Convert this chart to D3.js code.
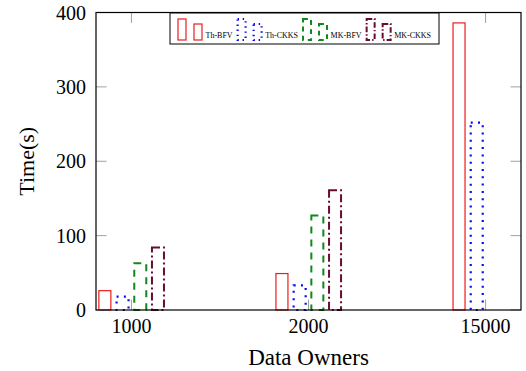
<!DOCTYPE html>
<html>
<head>
  <meta charset="UTF-8">
  <style>
    body { margin: 0; background: #fff; }
    svg { display: block; }
    text { font-family: "Liberation Serif", "Times New Roman", serif; fill: #000; }
  </style>
</head>
<body>
  <svg width="526" height="371"></svg>
  <script src="https://d3js.org/d3.v7.min.js"></script>
  <script>
    // data
    let categories = ["1000", "2000", "15000"];
    let seriesNames = ["Th-BFV", "Th-CKKS", "MK-BFV", "MK-CKKS"];
    let thBFV = [26, 49, 386];
    let thCKKS = [18, 33, 252];
    let mkBFV = [63, 127, null];
    let mkCKKS = [84, 161, null];
    let yTicks = [0, 100, 200, 300, 400];

    let seriesValues = [thBFV, thCKKS, mkBFV, mkCKKS];
    let styles = [
      { color: "#ee1c1c", width: 1.2, dash: null },
      { color: "#0a0aee", width: 2.2, dash: "2 5.3" },
      { color: "#10881a", width: 2, dash: "7 6" },
      { color: "#6b0a32", width: 2, dash: "8 3 2 3" }
    ];

    let pLeft = 96, pRight = 521, pTop = 12.5, pBottom = 310;
    let svg = d3.select("svg");

    let x = d3.scalePoint().domain(categories).range([pLeft, pRight]).padding(0.2);
    let xOff = d3.scaleBand().domain(seriesNames).range([-35.4, 35.4]);
    let barW = 12;
    let y = d3.scaleLinear().domain([0, 400]).range([pBottom, pTop]);

    // bars
    seriesNames.forEach((s, i) => {
      let st = styles[i];
      svg.append("g").selectAll("rect")
        .data(categories.map((c, j) => ({ c: c, v: seriesValues[i][j] })).filter(d => d.v != null))
        .enter()
        .append("rect")
        .attr("x", d => x(d.c) + xOff(s) + (xOff.bandwidth() - barW) / 2)
        .attr("y", d => y(d.v))
        .attr("width", barW)
        .attr("height", d => y(0) - y(d.v))
        .attr("fill", "none")
        .attr("stroke", st.color)
        .attr("stroke-width", st.width)
        .attr("stroke-dasharray", st.dash);
    });

    // inner ticks (grey)
    let tickLen = 10.5;
    let ticks = svg.append("g").attr("stroke", "#a0a0a0").attr("stroke-width", 1);
    categories.forEach(c => {
      ticks.append("line").attr("x1", x(c)).attr("x2", x(c)).attr("y1", pBottom).attr("y2", pBottom - tickLen);
      ticks.append("line").attr("x1", x(c)).attr("x2", x(c)).attr("y1", pTop).attr("y2", pTop + tickLen);
    });
    yTicks.forEach(t => {
      ticks.append("line").attr("x1", pLeft).attr("x2", pLeft + tickLen).attr("y1", y(t)).attr("y2", y(t));
      ticks.append("line").attr("x1", pRight).attr("x2", pRight - tickLen).attr("y1", y(t)).attr("y2", y(t));
    });

    // frame
    svg.append("rect")
      .attr("x", pLeft).attr("y", pTop)
      .attr("width", pRight - pLeft).attr("height", pBottom - pTop)
      .attr("fill", "none").attr("stroke", "#000").attr("stroke-width", 1.2);

    // tick labels
    svg.append("g").selectAll("text")
      .data(yTicks).enter().append("text")
      .attr("x", pLeft - 10)
      .attr("y", d => y(d) + 7)
      .attr("text-anchor", "end")
      .style("font-size", "20px")
      .text(d => d);

    svg.append("g").selectAll("text")
      .data(categories).enter().append("text")
      .attr("x", d => x(d))
      .attr("y", pBottom + 23)
      .attr("text-anchor", "middle")
      .style("font-size", "20px")
      .text(d => d);

    // axis titles
    svg.append("text")
      .attr("x", (pLeft + pRight) / 2)
      .attr("y", 365)
      .attr("text-anchor", "middle")
      .style("font-size", "23px")
      .text("Data Owners");

    svg.append("text")
      .attr("transform", "translate(34," + (pTop + pBottom) / 2 + ") rotate(-90)")
      .attr("text-anchor", "middle")
      .style("font-size", "22px")
      .text("Time(s)");

    // legend
    let legend = svg.append("g");
    legend.append("rect")
      .attr("x", 170).attr("y", 13)
      .attr("width", 269).attr("height", 31)
      .attr("fill", "#fff").attr("stroke", "#000").attr("stroke-width", 1);

    let lx = 178;
    seriesNames.forEach((s, i) => {
      let st = styles[i];
      let g = legend.append("g");
      [[0, 21], [16, 16]].forEach(p => {
        g.append("rect")
          .attr("x", lx + p[0]).attr("y", 40 - p[1])
          .attr("width", 8).attr("height", p[1])
          .attr("fill", "none")
          .attr("stroke", st.color)
          .attr("stroke-width", st.width)
          .attr("stroke-dasharray", st.dash ? st.dash.split(" ").map(v => v * 0.7).join(" ") : null);
      });
      let t = g.append("text")
        .attr("x", lx + 27.5).attr("y", 37.5)
        .style("font-size", "8px")
        .text(s);
      lx += 27.5 + t.node().getComputedTextLength() + 5;
    });
  </script>
</body>
</html>
